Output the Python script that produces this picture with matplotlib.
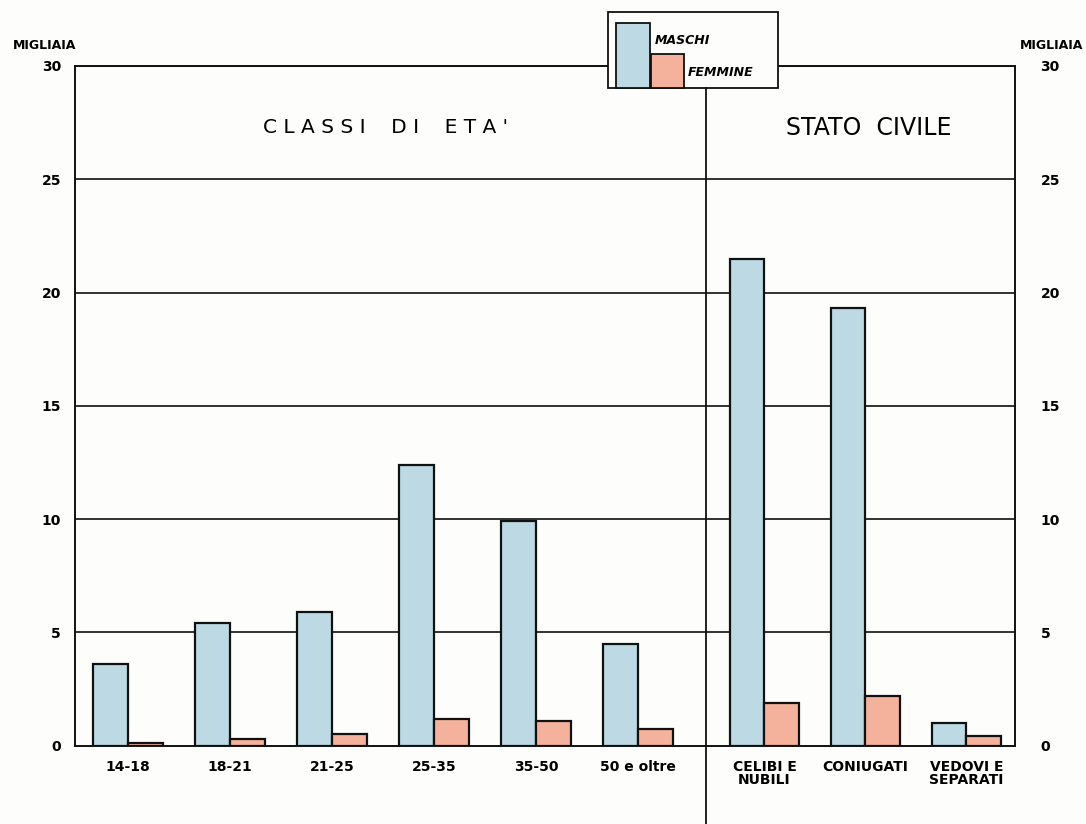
import matplotlib.pyplot as plt
from matplotlib.patches import Rectangle
import numpy as np

# dati (migliaia)
categorie = ['14-18', '18-21', '21-25', '25-35', '35-50', '50 e oltre',
             'CELIBI E\nNUBILI', 'CONIUGATI', 'VEDOVI E\nSEPARATI']
maschi = [3.6, 5.4, 5.9, 12.4, 9.9, 4.5, 21.5, 19.3, 1.0]
femmine = [0.1, 0.3, 0.5, 1.2, 1.1, 0.75, 1.9, 2.2, 0.45]
yticks = [0, 5, 10, 15, 20, 25, 30]

pos = np.array([0, 1, 2, 3, 4, 5, 6.24, 7.23, 8.22])
w = 0.34
c_m = '#bcd9e4'
c_f = '#f4b29c'

fig = plt.figure(figsize=(10.86, 8.24), dpi=100)
fig.patch.set_facecolor('#fdfdfb')
ax = fig.add_axes([0.069, 0.095, 0.866, 0.825])
ax.set_facecolor('#fdfdfb')

for y in yticks[1:]:
    ax.axhline(y, color='#222222', lw=1.3, zorder=1)

ax.bar(pos - w / 2, maschi, w, color=c_m, edgecolor='#111111', lw=1.6, zorder=3)
ax.bar(pos + w / 2, femmine, w, color=c_f, edgecolor='#111111', lw=1.6, zorder=3)

ax.set_xlim(-0.52, 8.7)
ax.set_ylim(0, 30)
for s in ax.spines.values():
    s.set_linewidth(1.4)
    s.set_color('#111111')

ax.set_xticks(pos)
ax.set_xticklabels(categorie, fontsize=10, fontweight='bold', linespacing=0.95)
ax.set_yticks(yticks)
ax.set_yticklabels([str(v) for v in yticks], fontsize=10, fontweight='bold')
ax.tick_params(length=0, pad=10)
ax2 = ax.twinx()
ax2.set_ylim(0, 30)
ax2.set_yticks(yticks)
ax2.set_yticklabels([str(v) for v in yticks], fontsize=10, fontweight='bold')
ax2.tick_params(length=0, pad=18)
for s in ax2.spines.values():
    s.set_visible(False)

# linea divisoria
fig.add_artist(plt.Line2D([0.650, 0.650], [0.0, 0.893], color='#111111', lw=1.3))

ax.text(0.33, 0.909, "C L A S S I    D I    E T A '", transform=ax.transAxes,
        ha='center', va='center', fontsize=14.5)
ax.text(0.844, 0.909, 'STATO  CIVILE', transform=ax.transAxes,
        ha='center', va='center', fontsize=17)

fig.text(0.041, 0.945, 'MIGLIAIA', ha='center', va='center', fontsize=9, fontweight='bold')
fig.text(0.968, 0.945, 'MIGLIAIA', ha='center', va='center', fontsize=9, fontweight='bold')

# legenda
H = 824.0
W = 1086.0
def box(x0, y0, x1, y1, color):
    fig.add_artist(Rectangle((x0 / W, 1 - y1 / H), (x1 - x0) / W, (y1 - y0) / H,
                             facecolor=color, edgecolor='#111111', lw=1.3,
                             transform=fig.transFigure))

box(608, 12, 778, 88, '#fdfdfb')
box(616, 23, 650, 88, c_m)
box(651, 54, 684, 88, c_f)
fig.text(655 / W, 1 - 40 / H, 'MASCHI', fontsize=9, fontweight='bold', style='italic',
         va='center', ha='left')
fig.text(688 / W, 1 - 72 / H, 'FEMMINE', fontsize=9, fontweight='bold', style='italic',
         va='center', ha='left')

fig.savefig('out.png', dpi=100, facecolor=fig.get_facecolor())
